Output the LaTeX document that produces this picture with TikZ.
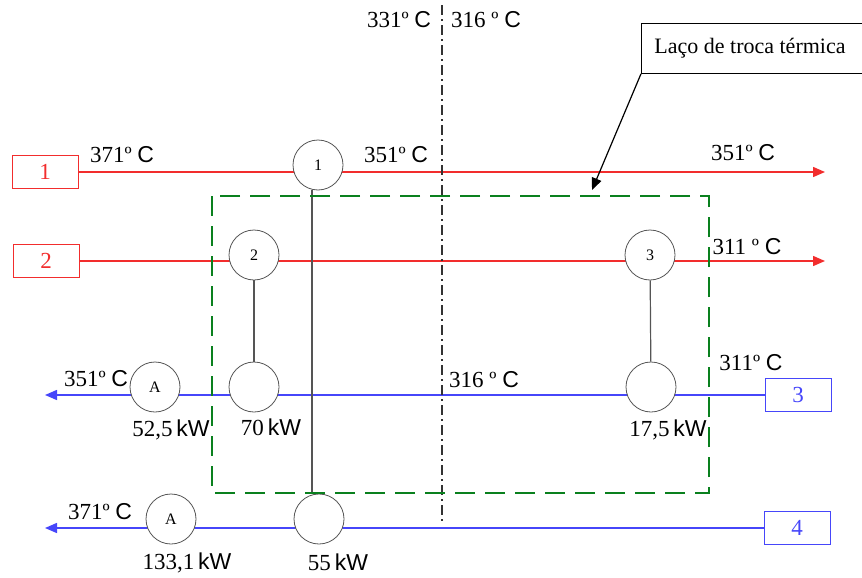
\documentclass[tikz,border=0pt]{standalone}
\usepackage{fontspec}
\setmainfont{Liberation Serif}
\newfontfamily\sanskw{Liberation Sans}
\usetikzlibrary{arrows.meta}

\definecolor{hotred}{RGB}{242,45,45}
\definecolor{coldblue}{RGB}{70,70,250}
\definecolor{loopgreen}{RGB}{10,128,30}
\definecolor{hxgray}{RGB}{85,85,85}

\newcommand{\degc}[1]{#1 {\sanskw C}}
\newcommand{\kwval}[1]{#1\,{\sanskw kW}}

\begin{document}
\begin{tikzpicture}[
    x=0.5pt, y=-0.5pt,
    font=\fontsize{11.5}{13}\selectfont,
    hotbox/.style={rectangle, draw=hotred, text=hotred, minimum width=33pt, minimum height=16.5pt, inner sep=0pt},
    coldbox/.style={rectangle, draw=coldblue, text=coldblue, minimum width=33pt, minimum height=16.5pt, inner sep=0pt},
    hx/.style={circle, draw=hxgray, fill=white, minimum size=25pt, inner sep=0pt, font=\fontsize{8}{9}\selectfont},
    hot/.style={draw=hotred, line width=0.75pt, -{Triangle[length=6pt,width=5pt]}},
    cold/.style={draw=coldblue, line width=0.75pt, -{Triangle[length=6pt,width=5pt]}},
    link/.style={draw=hxgray, line width=0.6pt},
    pointer/.style={->, >={Triangle[length=6pt,width=5pt]}, line width=0.6pt},
    lbl/.style={inner sep=0pt}
]
    \clip (0,0) rectangle (862,578);

    % streams
    \node[hotbox] (s1) at (45,172) {1};
    \node[hotbox] (s2) at (46,261) {2};
    \node[coldbox] (s3) at (798,395) {3};
    \node[coldbox] (s4) at (797,528) {4};
    \coordinate (e1) at (825,172);
    \coordinate (e2) at (825,261);
    \coordinate (e3) at (45,395);
    \coordinate (e4) at (45,528);

    \draw[hot] (s1) -- (e1);
    \draw[hot] (s2) -- (e2);
    \draw[cold] (s3) -- (e3);
    \draw[cold] (s4) -- (e4);

    % pinch line
    \coordinate (pt) at (442,5);
    \coordinate (pb) at (442,522);
    \draw[black!80, line width=0.6pt, dash pattern=on 5pt off 2pt on 1pt off 2pt] (pt) -- (pb);

    % exchangers
    \node[hx] (c1) at (318,165) {1};
    \node[hx] (c2) at (254,255) {2};
    \node[hx] (c3) at (650,255) {3};
    \node[hx] (a3) at (155,387) {A};
    \node[hx] (c70) at (254,387) {};
    \node[hx] (c175) at (651,387) {};
    \node[hx] (a4) at (171,519) {A};
    \node[hx] (c55) at (319,519) {};

    \draw[link] ([xshift=-3pt]c1.south) -- ([xshift=-3pt]c1.south |- c55.north);
    \draw[link] (c2) -- (c70);
    \draw[link] (c3) -- (c175);

    % loop
    \draw[loopgreen, line width=1.25pt, dash pattern=on 10pt off 5pt] (212,196) rectangle (709,493);
    \node[draw, anchor=north west, minimum height=25pt, minimum width=118pt, inner xsep=6.5pt] (note) at (641,23) {\fontsize{11}{12}\selectfont Laço de troca térmica\hspace*{12pt}};
    \coordinate (tip) at (592,190);
    \draw[pointer] (note.south west) -- (tip);

    % temperatures
    \node[lbl] (t331) at (399,20) {\degc{331º}};
    \node[lbl] (t316a) at (486,20) {\degc{316 º}};
    \node[lbl] (t371a) at (122,155) {\degc{371º}};
    \node[lbl] (t351a) at (396,155) {\degc{351º}};
    \node[lbl] (t351b) at (743,153) {\degc{351º}};
    \node[lbl] (t311a) at (747,247) {\degc{311 º}};
    \node[lbl] (t351c) at (96,379) {\degc{351º}};
    \node[lbl] (t316b) at (484,380) {\degc{316 º}};
    \node[lbl] (t311b) at (751,363) {\degc{311º}};
    \node[lbl] (t371b) at (100,512) {\degc{371º}};

    % duties
    \node[lbl] (q525) at (171,430) {\kwval{52,5}};
    \node[lbl] (q70) at (271,427) {\kwval{70}};
    \node[lbl] (q175) at (668,430) {\kwval{17,5}};
    \node[lbl] (q1331) at (187,563) {\kwval{133,1}};
    \node[lbl] (q55) at (338,562) {\kwval{55}};
\end{tikzpicture}
\end{document}
